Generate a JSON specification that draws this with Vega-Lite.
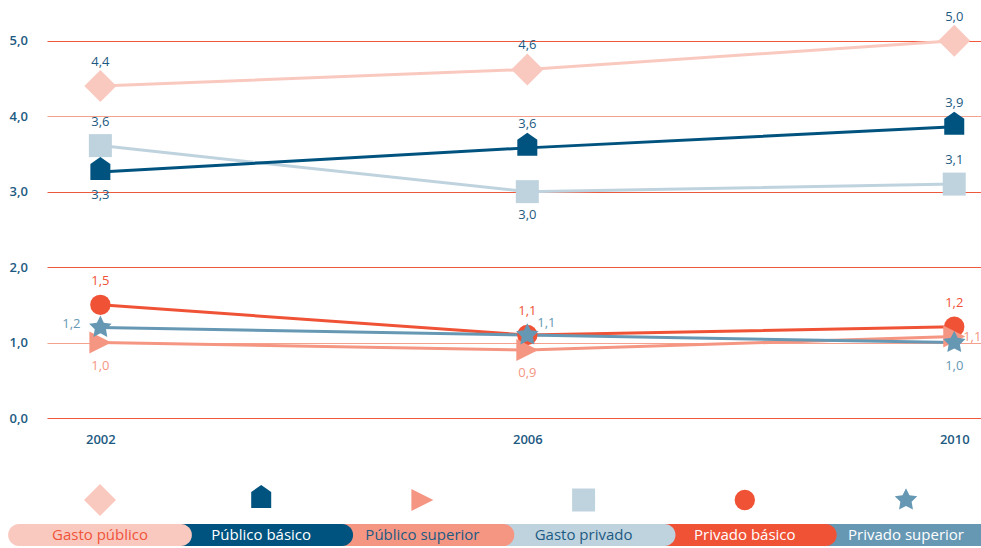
{
  "$schema": "https://vega.github.io/schema/vega-lite/v6.json",
  "padding": {"left": 8, "top": 3, "right": 0, "bottom": 2},
  "background": "white",
  "spacing": 7,
  "config": {
    "locale": {"number": {"decimal": ",", "thousands": ".", "grouping": [3], "currency": ["", " €"]}},
    "view": {"stroke": null},
    "font": "Open Sans"
  },
  "datasets": {
    "series": [
      {"series": "Gasto público", "year": 2002, "value": 4.4, "pos": "above"},
      {"series": "Gasto público", "year": 2006, "value": 4.62, "pos": "above"},
      {"series": "Gasto público", "year": 2010, "value": 5.0, "pos": "above"},
      {"series": "Gasto privado", "year": 2002, "value": 3.61, "pos": "above"},
      {"series": "Gasto privado", "year": 2006, "value": 3.0, "pos": "below"},
      {"series": "Gasto privado", "year": 2010, "value": 3.1, "pos": "above"},
      {"series": "Público básico", "year": 2002, "value": 3.26, "pos": "below"},
      {"series": "Público básico", "year": 2006, "value": 3.58, "pos": "above"},
      {"series": "Público básico", "year": 2010, "value": 3.86, "pos": "above"},
      {"series": "Privado básico", "year": 2002, "value": 1.5, "pos": "above"},
      {"series": "Privado básico", "year": 2006, "value": 1.1, "pos": "above"},
      {"series": "Privado básico", "year": 2010, "value": 1.21, "pos": "above"},
      {"series": "Público superior", "year": 2002, "value": 1.0, "pos": "below"},
      {"series": "Público superior", "year": 2006, "value": 0.9, "pos": "below"},
      {"series": "Público superior", "year": 2010, "value": 1.08, "pos": "right"},
      {"series": "Privado superior", "year": 2002, "value": 1.2, "pos": "left"},
      {"series": "Privado superior", "year": 2006, "value": 1.1, "pos": "upright"},
      {"series": "Privado superior", "year": 2010, "value": 1.0, "pos": "below"}
    ],
    "legend": [
      {"series": "Privado superior"},
      {"series": "Privado básico"},
      {"series": "Gasto privado"},
      {"series": "Público superior"},
      {"series": "Público básico"},
      {"series": "Gasto público"}
    ]
  },
  "vconcat": [
    {
      "width": 935,
      "height": 415,
      "data": {"name": "series"},
      "encoding": {
        "x": {
          "field": "year", "type": "quantitative",
          "scale": {"domain": [2001.5, 2010.26], "nice": false, "zero": false},
          "axis": {"values": [2002, 2006, 2010], "format": "d", "domain": false, "ticks": false, "grid": false, "title": null,
                   "labelPadding": 15, "labelFontSize": 13, "labelColor": "#1d5a82", "labelFontWeight": 600, "minExtent": 58}
        },
        "y": {
          "field": "value", "type": "quantitative",
          "scale": {"domain": [0, 5.5], "nice": false},
          "axis": {"values": [0, 1, 2, 3, 4, 5], "format": ".1f", "domain": false, "ticks": false, "title": null,
                   "labelAlign": "left", "labelPadding": 38, "labelFontSize": 13, "labelColor": "#1d5a82", "labelFontWeight": 600,
                   "gridColor": {"condition": {"test": "datum.value === 4 || datum.value === 1", "value": "#f6a08e"}, "value": "#f0583c"},
                   "gridWidth": 1.2}
        }
      },
      "layer": [
        {
          "mark": {"type": "line", "strokeWidth": 3},
          "encoding": {
            "color": {"field": "series", "type": "nominal", "legend": null,
              "scale": {"domain": ["Gasto público", "Público básico", "Público superior", "Gasto privado", "Privado básico", "Privado superior"],
                        "range": ["#f9c9bf", "#00537f", "#f59683", "#bfd3df", "#f05236", "#6698b4"]}}
          }
        },
        {
          "mark": {"type": "point", "filled": true, "opacity": 1},
          "encoding": {
            "color": {"field": "series", "type": "nominal", "legend": null,
              "scale": {"domain": ["Gasto público", "Público básico", "Público superior", "Gasto privado", "Privado básico", "Privado superior"],
                        "range": ["#f9c9bf", "#00537f", "#f59683", "#bfd3df", "#f05236", "#6698b4"]}},
            "shape": {"field": "series", "type": "nominal", "legend": null,
              "scale": {"domain": ["Gasto público", "Público básico", "Público superior", "Gasto privado", "Privado básico", "Privado superior"],
                        "range": ["diamond", "M-1,0.8L-1,-0.8L0,-1.5L1,-0.8L1,0.8Z", "M-1,-1L1,0L-1,1Z", "square", "circle",
                                  "M0,-1L0.294,-0.405L0.951,-0.309L0.476,0.155L0.588,0.809L0,0.5L-0.588,0.809L-0.476,0.155L-0.951,-0.309L-0.294,-0.405Z"]}},
            "size": {"field": "series", "type": "nominal", "legend": null,
              "scale": {"type": "ordinal", "domain": ["Gasto público", "Público básico", "Público superior", "Gasto privado", "Privado básico", "Privado superior"],
                        "range": [1024, 400, 484, 529, 415, 560]}}
          }
        },
        {
          "transform": [{"filter": "datum.pos === 'above'"}],
          "mark": {"type": "text", "dy": -24, "fontSize": 13},
          "encoding": {
            "text": {"field": "value", "format": ".1f"},
            "color": {"field": "series", "type": "nominal", "legend": null,
              "scale": {"domain": ["Gasto público", "Público básico", "Público superior", "Gasto privado", "Privado básico", "Privado superior"],
                        "range": ["#1d5a82", "#1d5a82", "#f59683", "#1d5a82", "#f05236", "#6698b4"]}}
          }
        },
        {
          "transform": [{"filter": "datum.pos === 'below'"}],
          "mark": {"type": "text", "dy": 23, "fontSize": 13},
          "encoding": {
            "text": {"field": "value", "format": ".1f"},
            "color": {"field": "series", "type": "nominal", "legend": null,
              "scale": {"domain": ["Gasto público", "Público básico", "Público superior", "Gasto privado", "Privado básico", "Privado superior"],
                        "range": ["#1d5a82", "#1d5a82", "#f59683", "#1d5a82", "#f05236", "#6698b4"]}}
          }
        },
        {
          "transform": [{"filter": "datum.pos === 'left'"}],
          "mark": {"type": "text", "dx": -29, "dy": -3, "fontSize": 13},
          "encoding": {
            "text": {"field": "value", "format": ".1f"},
            "color": {"field": "series", "type": "nominal", "legend": null,
              "scale": {"domain": ["Gasto público", "Público básico", "Público superior", "Gasto privado", "Privado básico", "Privado superior"],
                        "range": ["#1d5a82", "#1d5a82", "#f59683", "#1d5a82", "#f05236", "#6698b4"]}}
          }
        },
        {
          "transform": [{"filter": "datum.pos === 'upright'"}],
          "mark": {"type": "text", "dx": 19, "dy": -12, "fontSize": 13},
          "encoding": {
            "text": {"field": "value", "format": ".1f"},
            "color": {"field": "series", "type": "nominal", "legend": null,
              "scale": {"domain": ["Gasto público", "Público básico", "Público superior", "Gasto privado", "Privado básico", "Privado superior"],
                        "range": ["#1d5a82", "#1d5a82", "#f59683", "#1d5a82", "#f05236", "#6698b4"]}}
          }
        },
        {
          "transform": [{"filter": "datum.pos === 'right'"}],
          "mark": {"type": "text", "dx": 18, "dy": 0, "fontSize": 13},
          "encoding": {
            "text": {"field": "value", "format": ".1f"},
            "color": {"field": "series", "type": "nominal", "legend": null,
              "scale": {"domain": ["Gasto público", "Público básico", "Público superior", "Gasto privado", "Privado básico", "Privado superior"],
                        "range": ["#1d5a82", "#1d5a82", "#f59683", "#1d5a82", "#f05236", "#6698b4"]}}
          }
        }
      ],
      "resolve": {"scale": {"color": "independent"}}
    },
    {
      "width": 935,
      "height": 34,
      "data": {"name": "legend"},
      "mark": {"type": "point", "filled": true, "opacity": 1},
      "encoding": {
        "x": {"field": "series", "type": "nominal", "axis": null,
          "scale": {"type": "band", "domain": ["Gasto público", "Público básico", "Público superior", "Gasto privado", "Privado básico", "Privado superior"],
                    "range": [-27.6, 939.6], "paddingInner": 0, "paddingOuter": 0}},
        "color": {"field": "series", "type": "nominal", "legend": null,
          "scale": {"domain": ["Gasto público", "Público básico", "Público superior", "Gasto privado", "Privado básico", "Privado superior"],
                    "range": ["#f9c9bf", "#00537f", "#f59683", "#bfd3df", "#f05236", "#6698b4"]}},
        "shape": {"field": "series", "type": "nominal", "legend": null,
          "scale": {"domain": ["Gasto público", "Público básico", "Público superior", "Gasto privado", "Privado básico", "Privado superior"],
                    "range": ["diamond", "M-1,1.15L-1,-0.45L0,-1.15L1,-0.45L1,1.15Z", "M-1,-1L1,0L-1,1Z", "square", "circle",
                              "M0,-1L0.294,-0.405L0.951,-0.309L0.476,0.155L0.588,0.809L0,0.5L-0.588,0.809L-0.476,0.155L-0.951,-0.309L-0.294,-0.405Z"]}},
        "size": {"field": "series", "type": "nominal", "legend": null,
          "scale": {"type": "ordinal", "domain": ["Gasto público", "Público básico", "Público superior", "Gasto privado", "Privado básico", "Privado superior"],
                    "range": [1024, 400, 529, 529, 380, 560]}}
      }
    },
    {
      "width": 935,
      "height": 22,
      "data": {"name": "legend"},
      "encoding": {
        "x": {"field": "series", "type": "nominal", "axis": null,
          "scale": {"type": "band", "domain": ["Gasto público", "Público básico", "Público superior", "Gasto privado", "Privado básico", "Privado superior"],
                    "range": [-27.6, 939.6], "paddingInner": 0, "paddingOuter": 0}}
      },
      "layer": [
        {
          "mark": {"type": "bar", "cornerRadius": 11, "width": {"band": 1.14}},
          "encoding": {
            "color": {"field": "series", "type": "nominal", "legend": null,
              "scale": {"domain": ["Gasto público", "Público básico", "Público superior", "Gasto privado", "Privado básico", "Privado superior"],
                        "range": ["#f9c9bf", "#00537f", "#f59683", "#bfd3df", "#f05236", "#6698b4"]}}
          }
        },
        {
          "mark": {"type": "text", "fontSize": 15},
          "encoding": {
            "text": {"field": "series"},
            "color": {"field": "series", "type": "nominal", "legend": null,
              "scale": {"domain": ["Gasto público", "Público básico", "Público superior", "Gasto privado", "Privado básico", "Privado superior"],
                        "range": ["#f0533a", "#ffffff", "#1d5a82", "#1d5a82", "#ffffff", "#ffffff"]}}
          }
        }
      ],
      "resolve": {"scale": {"color": "independent"}}
    }
  ]
}
